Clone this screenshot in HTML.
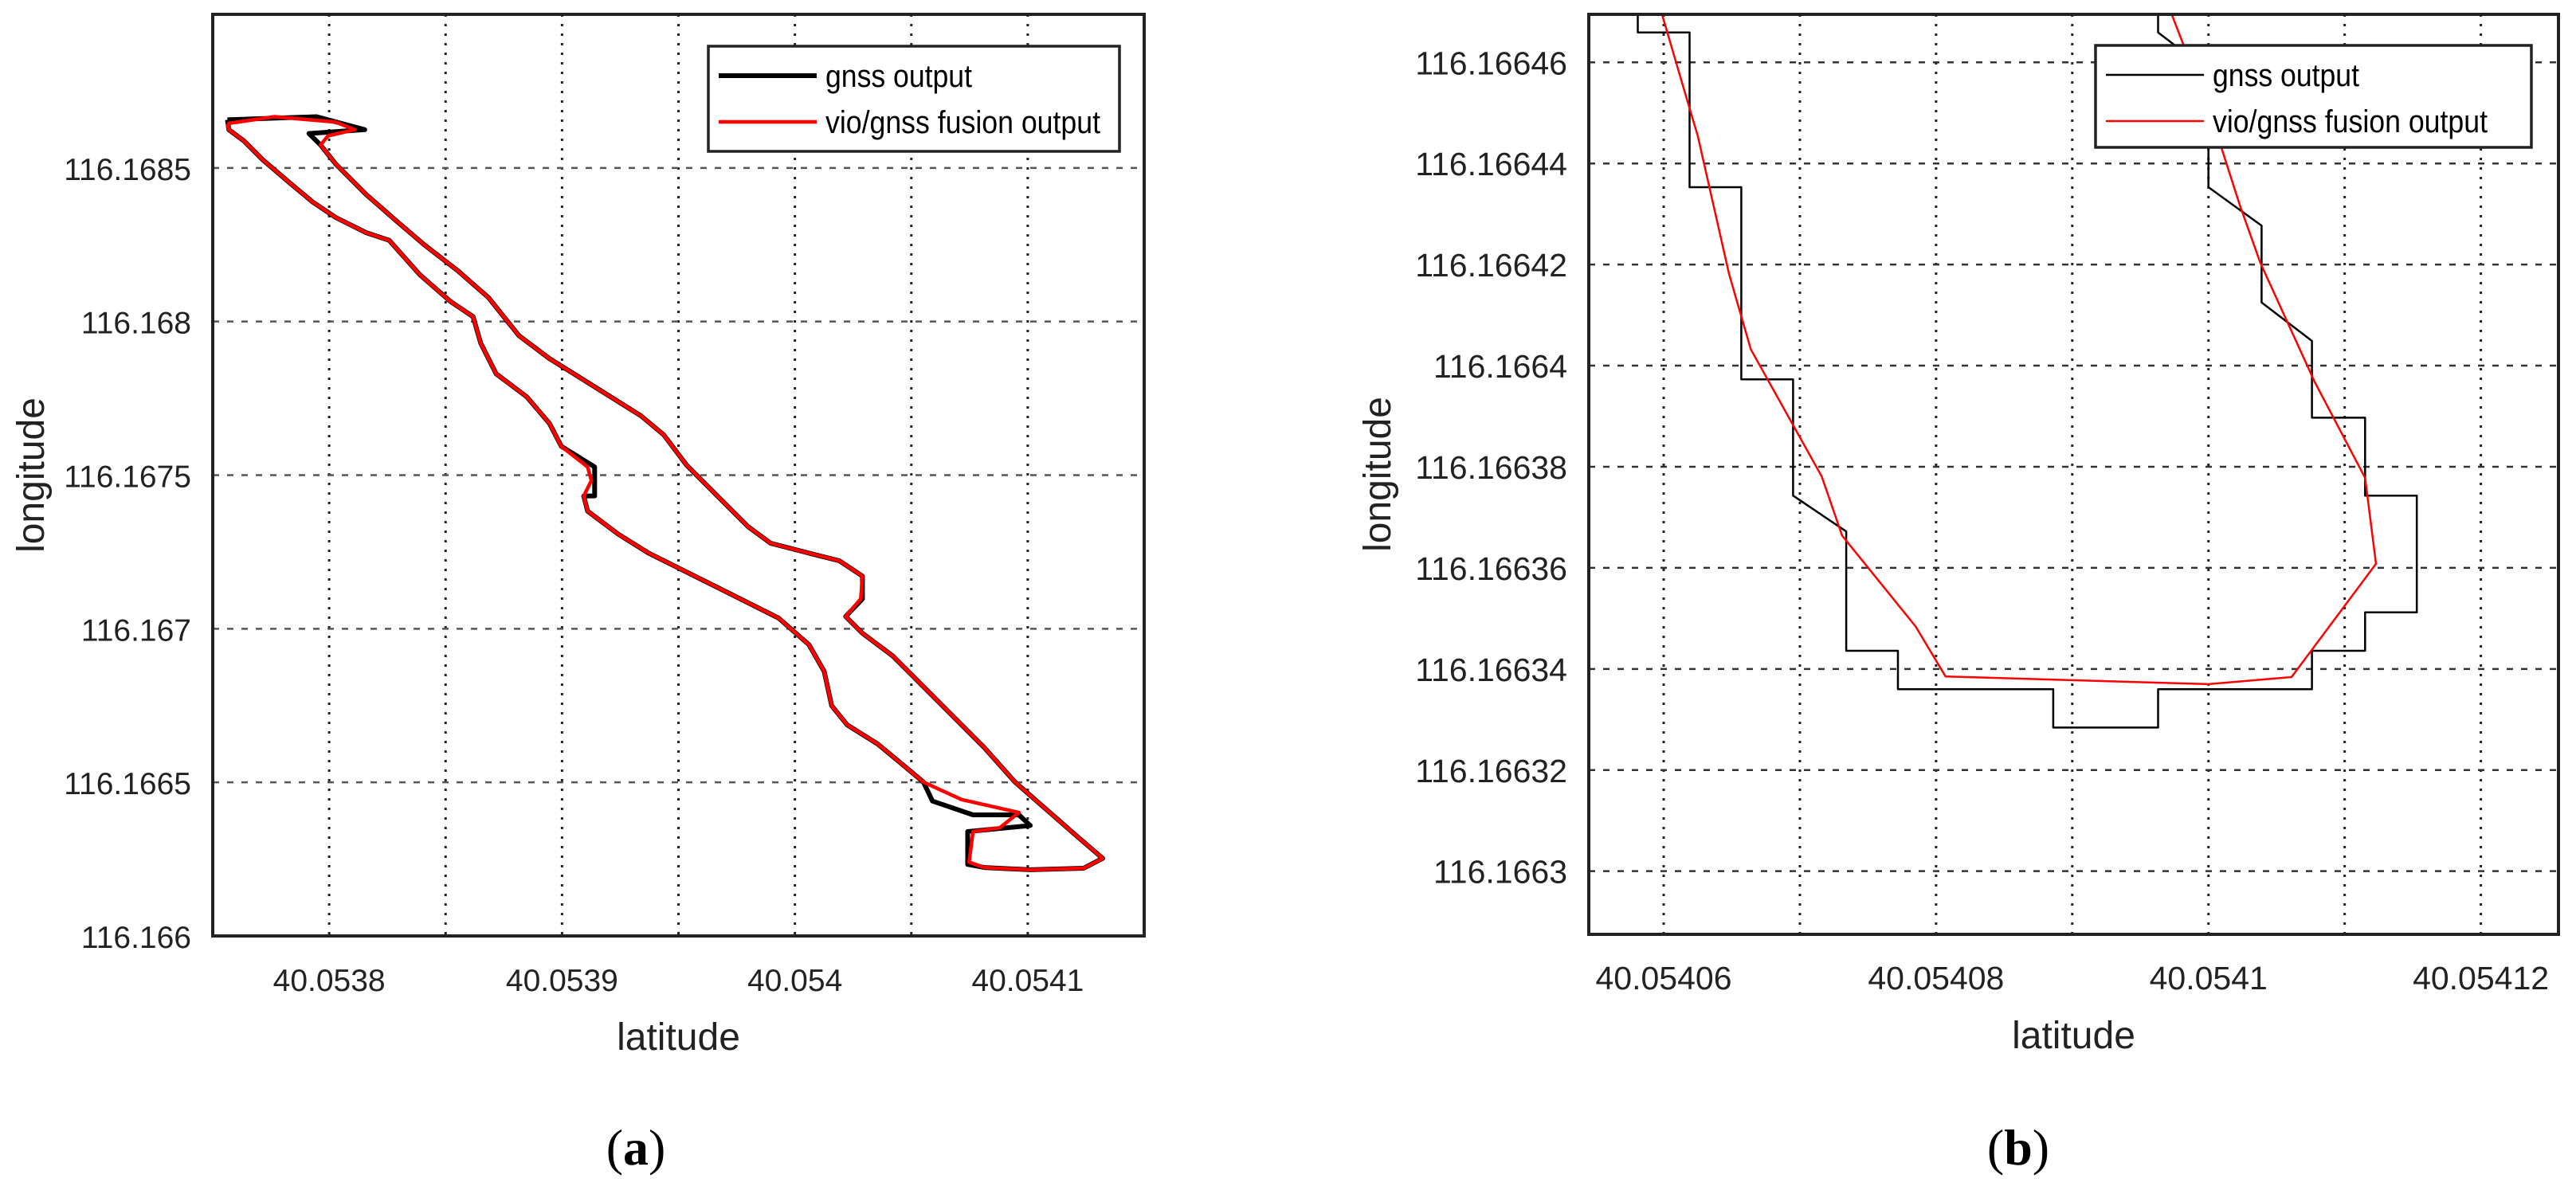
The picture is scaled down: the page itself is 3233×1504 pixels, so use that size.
<!DOCTYPE html>
<html><head><meta charset="utf-8"><style>
html,body{margin:0;padding:0;background:#fff;}
svg{display:block;font-family:"Liberation Sans",Arial,sans-serif;}
</style></head><body>
<svg id="fig" width="3233" height="1504" viewBox="0 0 3233 1504" xmlns="http://www.w3.org/2000/svg"></svg>
<script>
// ---- Panel (a) data ----
const aFusionLat = [40.0537563,40.0537766,40.0538028,40.0538110,40.0537995,40.0537963,40.0538028,40.0538159,40.0538290,40.0538405,40.0538553,40.0538684,40.0538815,40.0538946,40.0539077,40.0539208,40.0539339,40.0539437,40.0539536,40.0539667,40.0539798,40.0539896,40.0540060,40.0540191,40.0540290,40.0540283,40.0540218,40.0540290,40.0540421,40.0540552,40.0540683,40.0540814,40.0540945,40.0541076,40.0541207,40.0541322,40.0541240,40.0541011,40.0540814,40.0540748,40.0540765,40.0540880,40.0540962,40.0540716,40.0540552,40.0540454,40.0540355,40.0540224,40.0540158,40.0540126,40.0540060,40.0539929,40.0539733,40.0539602,40.0539471,40.0539372,40.0539241,40.0539110,40.0539093,40.0539126,40.0539110,40.0538997,40.0538946,40.0538848,40.0538717,40.0538651,40.0538618,40.0538520,40.0538389,40.0538258,40.0538159,40.0538028,40.0537930,40.0537832,40.0537717,40.0537635,40.0537569,40.0537563];
const aFusionLon = [116.1686444,116.1686667,116.1686493,116.1686245,116.1686046,116.1685748,116.1685127,116.1684134,116.1683265,116.1682520,116.1681651,116.1680781,116.1679539,116.1678794,116.1678173,116.1677552,116.1676931,116.1676310,116.1675317,116.1674324,116.1673330,116.1672784,116.1672461,116.1672213,116.1671716,116.1670971,116.1670399,116.1669853,116.1669108,116.1668115,116.1667121,116.1666128,116.1665010,116.1664141,116.1663272,116.1662526,116.1662203,116.1662154,116.1662228,116.1662402,116.1663396,116.1663520,116.1664017,116.1664439,116.1665010,116.1665631,116.1666252,116.1666873,116.1667494,116.1668611,116.1669481,116.1670350,116.1671095,116.1671592,116.1672088,116.1672461,116.1673082,116.1673827,116.1674324,116.1674820,116.1675267,116.1675938,116.1676683,116.1677552,116.1678297,116.1679291,116.1680160,116.1680657,116.1681526,116.1682644,116.1682892,116.1683389,116.1683886,116.1684506,116.1685251,116.1685872,116.1686245,116.1686444];
const aGnssLat = [40.0537563,40.0537946,40.0538153,40.0537913,40.0537963,40.0538028,40.0538159,40.0538290,40.0538405,40.0538553,40.0538684,40.0538815,40.0538946,40.0539077,40.0539208,40.0539339,40.0539437,40.0539536,40.0539667,40.0539798,40.0539896,40.0540060,40.0540191,40.0540290,40.0540290,40.0540218,40.0540290,40.0540421,40.0540552,40.0540683,40.0540814,40.0540945,40.0541076,40.0541207,40.0541322,40.0541240,40.0541011,40.0540814,40.0540742,40.0540742,40.0541011,40.0540962,40.0540765,40.0540591,40.0540552,40.0540454,40.0540355,40.0540224,40.0540158,40.0540126,40.0540060,40.0539929,40.0539733,40.0539602,40.0539471,40.0539372,40.0539241,40.0539110,40.0539093,40.0539140,40.0539140,40.0538997,40.0538946,40.0538848,40.0538717,40.0538651,40.0538618,40.0538520,40.0538389,40.0538258,40.0538159,40.0538028,40.0537930,40.0537832,40.0537717,40.0537635,40.0537569,40.0537563];
const aGnssLon = [116.1686568,116.1686667,116.1686245,116.1686121,116.1685748,116.1685127,116.1684134,116.1683265,116.1682520,116.1681651,116.1680781,116.1679539,116.1678794,116.1678173,116.1677552,116.1676931,116.1676310,116.1675317,116.1674324,116.1673330,116.1672784,116.1672461,116.1672213,116.1671716,116.1670971,116.1670399,116.1669853,116.1669108,116.1668115,116.1667121,116.1666128,116.1665010,116.1664141,116.1663272,116.1662526,116.1662203,116.1662154,116.1662228,116.1662328,116.1663396,116.1663594,116.1663942,116.1663942,116.1664389,116.1665010,116.1665631,116.1666252,116.1666873,116.1667494,116.1668611,116.1669481,116.1670350,116.1671095,116.1671592,116.1672088,116.1672461,116.1673082,116.1673827,116.1674324,116.1674324,116.1675267,116.1675938,116.1676683,116.1677552,116.1678297,116.1679291,116.1680160,116.1680657,116.1681526,116.1682644,116.1682892,116.1683389,116.1683886,116.1684506,116.1685251,116.1685872,116.1686245,116.1686568];
const aXTicks = [40.0538,40.0539,40.054,40.0541];
const aXTickLabels = ["40.0538","40.0539","40.054","40.0541"];
const aXGrid = [40.0538,40.05385,40.0539,40.05395,40.054,40.05405,40.0541];
const aYTicks = [116.166,116.1665,116.167,116.1675,116.168,116.1685];
const aYTickLabels = ["116.166","116.1665","116.167","116.1675","116.168","116.1685"];

// ---- Panel (b) data ----
const bGnssLat = [40.0540581,40.0540581,40.0540619,40.0540619,40.0540657,40.0540657,40.0540695,40.0540695,40.0540734,40.0540734,40.0540772,40.0540772,40.0540886,40.0540886,40.0540963,40.0540963,40.0541076,40.0541076,40.0541115,40.0541115,40.0541153,40.0541153,40.0541115,40.0541115,40.0541076,40.0541076,40.0541039,40.0541039,40.0541000,40.0541000,40.0540963,40.0540963];
const bGnssLon = [116.1664702,116.1664659,116.1664659,116.1664353,116.1664353,116.1663973,116.1663973,116.1663743,116.1663672,116.1663436,116.1663436,116.1663360,116.1663360,116.1663284,116.1663284,116.1663360,116.1663360,116.1663436,116.1663436,116.1663512,116.1663512,116.1663743,116.1663743,116.1663897,116.1663897,116.1664049,116.1664125,116.1664277,116.1664353,116.1664583,116.1664659,116.1664702];
const bFusionLat = [40.0540598,40.0540619,40.0540625,40.0540648,40.0540664,40.0540716,40.0540731,40.0540785,40.0540807,40.0541000,40.0541061,40.0541123,40.0541115,40.0541078,40.0541038,40.0541023,40.0541003,40.0540972];
const bFusionLon = [116.1664702,116.1664509,116.1664455,116.1664181,116.1664032,116.1663781,116.1663664,116.1663484,116.1663385,116.1663370,116.1663384,116.1663608,116.1663778,116.1663968,116.1664204,116.1664318,116.1664486,116.1664702];
const bXTicks = [40.05406,40.05408,40.0541,40.05412];
const bXTickLabels = ["40.05406","40.05408","40.0541","40.05412"];
const bXGrid = [40.05406,40.05407,40.05408,40.05409,40.0541,40.05411,40.05412];
const bYTicks = [116.1663,116.16632,116.16634,116.16636,116.16638,116.1664,116.16642,116.16644,116.16646];
const bYTickLabels = ["116.1663","116.16632","116.16634","116.16636","116.16638","116.1664","116.16642","116.16644","116.16646"];

const NS = "http://www.w3.org/2000/svg";
const svg = document.getElementById("fig");
function mk(tag, attrs, parent) {
  const e = document.createElementNS(NS, tag);
  for (const k in attrs) e.setAttribute(k, attrs[k]);
  (parent || svg).appendChild(e);
  return e;
}
function panel(cfg) {
  const g = mk("g", {});
  
  
  const L = cfg.box[0], T = cfg.box[1], R = cfg.box[2], B = cfg.box[3];
  const sx = v => L + (v - cfg.xlim[0]) / (cfg.xlim[1] - cfg.xlim[0]) * (R - L);
  const sy = v => B - (v - cfg.ylim[0]) / (cfg.ylim[1] - cfg.ylim[0]) * (B - T);
  const bg = mk("rect", {x:L, y:T, width:R-L, height:B-T, fill:"#fff"}, g);
  
  
  cfg.xgrid.forEach(v => {
    const l = mk("line", {x1:sx(v), x2:sx(v), y1:T, y2:B, stroke:"#222", "stroke-width":3, "stroke-dasharray":"3,9"}, g);
    
    
  });
  cfg.yticks.forEach(v => {
    const l = mk("line", {x1:L, x2:R, y1:sy(v), y2:sy(v), stroke:cfg.hgridColor, "stroke-width":2.5, "stroke-dasharray":"8,10"}, g);
    
    
  });
  const cp = mk("clipPath", {id:cfg.name + "-clip"}, g);
  mk("rect", {x:L, y:T, width:R-L, height:B-T}, cp);
  const dg = mk("g", {"clip-path":"url(#" + cfg.name + "-clip)"}, g);
  const pathIn = (lat, lon, color, w, name) => {
    let d = "";
    for (let i = 0; i < lat.length; i++) d += (i ? "L" : "M") + sx(lat[i]).toFixed(1) + "," + sy(lon[i]).toFixed(1);
    const p = mk("path", {d:d, fill:"none", stroke:color, "stroke-width":w, "stroke-linejoin":"round"}, dg);
    
    
  };
  pathIn(cfg.gLat, cfg.gLon, "#000", cfg.gW, "gnss-output-line");
  pathIn(cfg.fLat, cfg.fLon, "#f00", cfg.fW, "fusion-output-line");
  const frame = mk("rect", {x:L, y:T, width:R-L, height:B-T, fill:"none", stroke:"#222", "stroke-width":4}, g);
  
  
  cfg.xticks.forEach((v, i) => {
    const t = mk("text", {x:sx(v), y:B + 69, "font-size":cfg.fs, "text-anchor":"middle", fill:"#222"}, g);
    t.textContent = cfg.xlabels[i];
    
    
  });
  cfg.yticks.forEach((v, i) => {
    const t = mk("text", {x:L - 27, y:sy(v) + 15, "font-size":cfg.fs, "text-anchor":"end", fill:"#222"}, g);
    t.textContent = cfg.ylabels[i];
    
    
  });
  const xt = mk("text", {x:(L + R) / 2, y:B + 143, "font-size":48, "text-anchor":"middle", fill:"#222"}, g);
  xt.textContent = "latitude";
  
  
  const yt = mk("text", {x:0, y:0, "font-size":48, "text-anchor":"middle", fill:"#222", transform:"translate(" + cfg.ylabelX + "," + (T + B) / 2 + ") rotate(-90)"}, g);
  yt.textContent = "longitude";
  
  
  const lg = mk("g", {}, g);
  
  
  const Lb = cfg.legend;
  mk("rect", {x:Lb[0], y:Lb[1], width:Lb[2]-Lb[0], height:Lb[3]-Lb[1], fill:"#fff", stroke:"#222", "stroke-width":3.5}, lg);
  const entries = [["gnss output", "#000", cfg.gW, 184], ["vio/gnss fusion output", "#f00", cfg.fW, 345]];
  entries.forEach((e, i) => {
    const yy = Lb[1] + 37 + i * 58;
    const ln = mk("line", {x1:Lb[0] + 13, x2:Lb[0] + 136, y1:yy, y2:yy, stroke:e[1], "stroke-width":e[2]}, lg);
    
    
    const tx = mk("text", {x:Lb[0] + 147, y:yy + 14, "font-size":40, fill:"#000", textLength:e[3], lengthAdjust:"spacingAndGlyphs"}, lg);
    tx.textContent = e[0];
    
    
  });
  const cap = mk("text", {x:cfg.capX, y:1462, "font-size":64, "text-anchor":"middle", fill:"#000", "font-family":"Liberation Serif, serif"}, g);
  cap.innerHTML = '(<tspan font-weight="bold">' + cfg.cap + '</tspan>)';
  
  
}
panel({name:"panel-a", box:[267,18,1436,1175], xlim:[40.05375,40.05415], ylim:[116.166,116.169],
  xgrid:aXGrid, xticks:aXTicks, xlabels:aXTickLabels, yticks:aYTicks, ylabels:aYTickLabels,
  gLat:aGnssLat, gLon:aGnssLon, fLat:aFusionLat, fLon:aFusionLon, gW:6, fW:4.5, fs:39,
  hgridColor:"#555", ylabelX:55, legend:[889,58,1405,190], capX:798, cap:"a"});
panel({name:"panel-b", box:[1994,18,3211,1173], xlim:[40.0540545,40.0541257], ylim:[116.1662875,116.1664695],
  xgrid:bXGrid, xticks:bXTicks, xlabels:bXTickLabels, yticks:bYTicks, ylabels:bYTickLabels,
  gLat:bGnssLat, gLon:bGnssLon, fLat:bFusionLat, fLon:bFusionLon, gW:2.5, fW:2.5, fs:41,
  hgridColor:"#333", ylabelX:1745, legend:[2630,57,3177,185], capX:2533, cap:"b"});
</script>
</body></html>
